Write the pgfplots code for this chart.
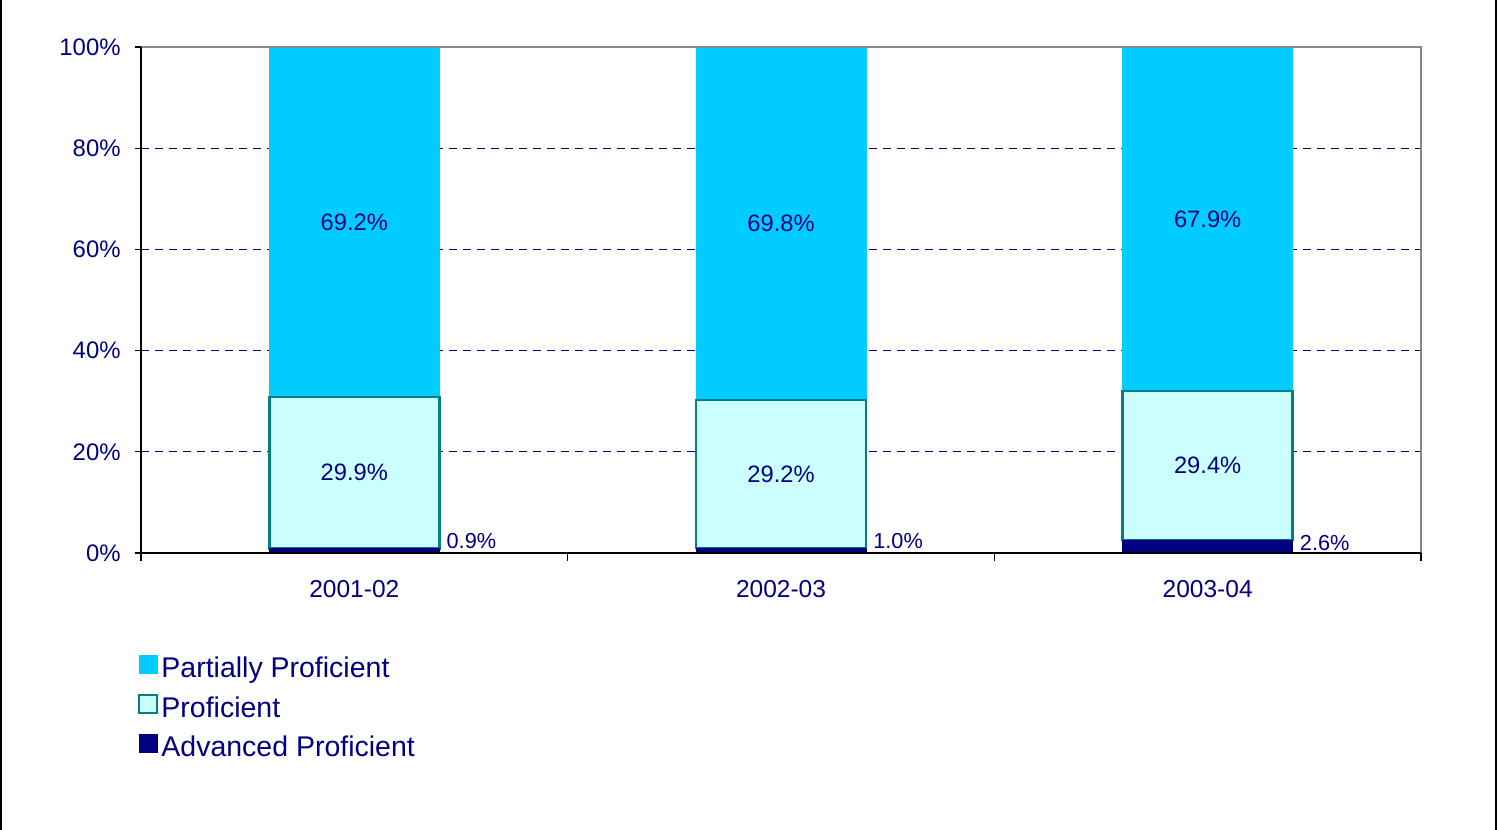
\documentclass[border=0pt]{standalone}
\usepackage{pgfplots}
\pgfplotsset{compat=1.18}
\usepackage{fontspec}
\setmainfont{Liberation Sans}

\definecolor{partcol}{HTML}{00CCFF}
\definecolor{profcol}{HTML}{CCFFFF}
\definecolor{profedge}{HTML}{008080}
\definecolor{advcol}{HTML}{000080}
\definecolor{navy}{HTML}{000080}
\definecolor{framegray}{HTML}{878787}

\begin{document}
\begin{tikzpicture}
\useasboundingbox (0,0) rectangle (749.5bp,415bp);
\draw[black,line width=1bp] (0.5bp,0) -- (0.5bp,415bp);
\draw[black,line width=1bp] (748.2bp,0) -- (748.2bp,415bp);

\pgfplotsset{
  common/.style={
    scale only axis,width=640bp,height=253bp,
    at={(70.5bp,138.5bp)},anchor=south west,
    xmin=-0.5,xmax=2.5,ymin=0,ymax=100,
  },
}

\begin{axis}[
  common,
  ybar stacked,bar width=85bp,
  axis line style={draw=none},
  xtick={0,1,2},
  xticklabels={2001-02,2002-03,2003-04},
  major x tick style={draw=none},
  minor xtick={-0.5,0.5,1.5,2.5},
  minor x tick style={black,line width=0.6bp},
  minor tick length=4bp,
  ytick={0,20,40,60,80,100},
  yticklabels={0\%,20\%,40\%,60\%,80\%,100\%},
  major y tick style={black,line width=0.6bp},
  major tick length=3bp,
  tick align=outside,tick pos=left,
  ymajorgrids,
  grid style={navy,line width=0.5bp,dash pattern=on 4bp off 3bp},
  tick label style={font=\fontsize{12}{14}\selectfont,text=navy,inner sep=0pt},
  yticklabel style={xshift=-7bp},
  xticklabel style={yshift=-10.5bp,font=\fontsize{12.3}{14}\selectfont},
  reverse legend,
  legend style={at={(axis description cs:-0.003,-0.2)},anchor=north west,
    draw=none,fill=none,inner sep=0pt,row sep=5.4bp,
    font=\fontsize{14.3}{17}\selectfont,text=navy,
    nodes={inner xsep=1.75bp,inner ysep=0pt,text height=10.5bp,text depth=3bp}},
  legend cell align=left,
  legend image code/.code={\draw[#1,/tikz/.cd] (0bp,-1.6bp) rectangle (9bp,7.4bp);},
  after end axis/.code={
    \draw[framegray,line width=1.1bp] (rel axis cs:0,1) -- (rel axis cs:1,1) -- (rel axis cs:1,0);
    \draw[black,line width=0.9bp] (rel axis cs:0,1) -- (rel axis cs:0,0) -- (rel axis cs:1,0);
  },
]
\addplot[fill=advcol,draw=advcol,line width=0.2bp] coordinates {(0,0.9) (1,1.0) (2,2.6)};
\addlegendentry{Advanced Proficient}
\addplot[fill=profcol,draw=profedge,line width=1.2bp] coordinates {(0,29.9) (1,29.2) (2,29.4)};
\addlegendentry{Proficient}
\addplot[fill=partcol,draw=partcol,line width=0.2bp] coordinates {(0,69.2) (1,69.8) (2,67.9)};
\addlegendentry{Partially Proficient}
\end{axis}

\begin{axis}[common,hide axis]
\addplot[draw=none,mark=none,nodes near coords,point meta=explicit symbolic,
  nodes near coords style={anchor=center,inner sep=0pt,text=navy,font=\fontsize{11.9}{14}\selectfont}]
  coordinates {(0,65.4)[69.2\%] (1,65.1)[69.8\%] (2,66.0)[67.9\%]
               (0,15.85)[29.9\%] (1,15.6)[29.2\%] (2,17.3)[29.4\%]};
\addplot[draw=none,mark=none,nodes near coords,point meta=explicit symbolic,
  nodes near coords style={anchor=west,inner sep=0pt,xshift=3.5bp,text=navy,font=\fontsize{10.9}{13}\selectfont}]
  coordinates {(0.199,2.37)[0.9\%] (1.199,2.37)[1.0\%] (2.199,1.98)[2.6\%]};
\end{axis}
\end{tikzpicture}
\end{document}
